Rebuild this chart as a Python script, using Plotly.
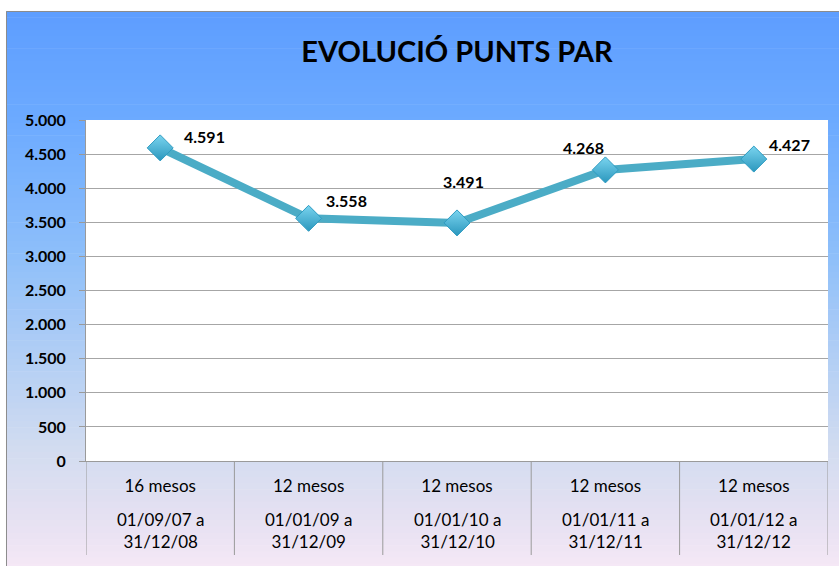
import plotly.graph_objects as go

periods = ["16 mesos", "12 mesos", "12 mesos", "12 mesos", "12 mesos"]
date_ranges = ["01/09/07 a<br>31/12/08", "01/01/09 a<br>31/12/09", "01/01/10 a<br>31/12/10",
               "01/01/11 a<br>31/12/11", "01/01/12 a<br>31/12/12"]
points = [4591, 3558, 3491, 4268, 4427]
label_shift_x = [44, 38, 6, -22, 36]
label_shift_y = [11, 18, 41, 22, 15]

W, H = 839, 566
L, R, T, B = 86, 828, 120, 461  # page pixel coordinates
pw, ph = R - L, B - T

def px_x(p):
    return (p - L) / pw

def px_y(p):
    return (B - p) / ph

x_idx = list(range(len(periods)))

fig = go.Figure()
fig.add_trace(go.Scatter(
    x=x_idx, y=points, mode="lines+markers",
    line=dict(color="#4BACC6", width=8),
    marker=dict(symbol="diamond", size=20, color="#7AD4EF",
                gradient=dict(type="vertical", color="#2B97BD"),
                line=dict(color="#2E9CC2", width=1)),
    hoverinfo="skip", showlegend=False,
))

# gradient background (style)
stops = [(8, (93, 157, 255)), (120, (108, 170, 255)), (250, (140, 190, 250)),
         (350, (175, 205, 245)), (450, (210, 220, 240)), (520, (230, 225, 242)),
         (570, (246, 232, 246))]

def col_at(py):
    for (y0, c0), (y1, c1) in zip(stops[:-1], stops[1:]):
        if y0 <= py <= y1:
            t = (py - y0) / (y1 - y0)
            return tuple(int(round(a + (b - a) * t)) for a, b in zip(c0, c1))
    return stops[-1][1]

shapes = []
n = 90
y_top, y_bot = 11, 570
for i in range(n):
    a = y_top + (y_bot - y_top) * i / n
    b = y_top + (y_bot - y_top) * (i + 1) / n + 0.6
    c = col_at((a + b) / 2)
    shapes.append(dict(type="rect", xref="paper", yref="paper", layer="below",
                       x0=px_x(6), x1=px_x(850), y0=px_y(min(b, 570)), y1=px_y(a),
                       fillcolor="rgb(%d,%d,%d)" % c, line=dict(width=0)))
# white plot area
shapes.append(dict(type="rect", xref="paper", yref="paper", layer="below",
                   x0=0, x1=1, y0=0, y1=1, fillcolor="white", line=dict(width=0)))
# frame border
shapes.append(dict(type="path", xref="paper", yref="paper", layer="below",
                   path="M %f %f L %f %f L %f %f" % (px_x(6.5), px_y(570), px_x(6.5), px_y(11.5), px_x(850), px_y(11.5)),
                   line=dict(color="#8C8C8C", width=1)))
# category dividers
for k in range(len(periods) + 1):
    shapes.append(dict(type="line", xref="x", yref="paper", layer="above",
                       x0=k - 0.5, x1=k - 0.5, y0=0, y1=px_y(555),
                       line=dict(color="#9A9A9A", width=1)))

annotations = []
for i, v in enumerate(points):
    annotations.append(dict(x=i, y=v, xref="x", yref="y", showarrow=False,
                            text=f"{v:,}".replace(",", "."),
                            xshift=label_shift_x[i], yshift=label_shift_y[i],
                            font=dict(family="Lato", size=16, color="black", weight="bold")))
for i, d in enumerate(date_ranges):
    annotations.append(dict(x=i, y=px_y(530.5), xref="x", yref="paper", showarrow=False,
                            text=d, align="center", yanchor="middle", xanchor="center",
                            font=dict(family="Lato", size=17, color="black")))

fig.update_layout(
    width=W, height=H,
    margin=dict(l=L, r=W - R, t=T, b=H - B),
    paper_bgcolor="white", plot_bgcolor="rgba(0,0,0,0)",
    separators=",.",
    title=dict(text="<b>EVOLUCIÓ PUNTS PAR</b>", x=px_x(457), xref="paper",
               y=1 - 52 / H, yanchor="middle", xanchor="center",
               font=dict(family="Lato", size=29, color="black")),
    shapes=shapes, annotations=annotations,
    xaxis=dict(tickmode="array", tickvals=x_idx, ticktext=periods, range=[-0.5, 4.5],
               showgrid=False, zeroline=False, showline=True, linecolor="#9A9A9A",
               ticks="", ticklabelstandoff=10,
               tickfont=dict(family="Lato", size=17, color="black")),
    yaxis=dict(range=[0, 5000], dtick=500, tickformat=",d", showgrid=True,
               gridcolor="#A6A6A6", gridwidth=1, zeroline=False,
               showline=True, linecolor="#9A9A9A", ticks="outside", ticklen=6,
               tickcolor="#9A9A9A", ticklabelstandoff=10,
               tickfont=dict(family="Lato", size=16, color="black", weight="bold")),
)

fig.write_html("out.html", config={"displayModeBar": False},
               post_script="document.body.style.margin='0';document.body.style.overflow='hidden';")
